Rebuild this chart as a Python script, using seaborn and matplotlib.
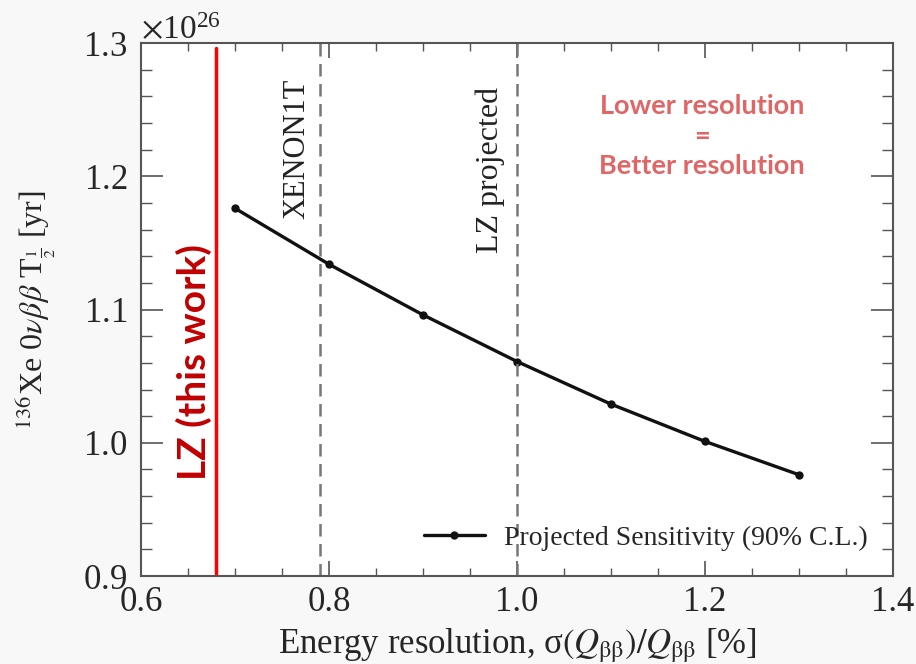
import numpy as np
import pandas as pd
import matplotlib
matplotlib.use("Agg")
import matplotlib.pyplot as plt
import seaborn as sns
from matplotlib.ticker import MultipleLocator, ScalarFormatter

# data (half-life sensitivity, yr)
resolution = [0.7, 0.8, 0.9, 1.0, 1.1, 1.2, 1.3]
halflife = [1.176e26, 1.134e26, 1.096e26, 1.061e26, 1.029e26, 1.001e26, 0.976e26]
xenon1t_res = 0.79
lz_proj_res = 1.0
lz_this_work = 0.68

df = pd.DataFrame({"res": resolution, "t12": halflife})

sns.set_style("ticks")
plt.rcParams["font.family"] = ["Liberation Serif", "DejaVu Serif"]
plt.rcParams["mathtext.fontset"] = "stix"

fig = plt.figure(figsize=(9.16, 6.64), dpi=100, facecolor="#f8f8f8")
ax = fig.add_axes([0.154, 0.1325, 0.821, 0.8025])
ax.set_facecolor("white")

sns.lineplot(data=df, x="res", y="t12", ax=ax, color="#111111", linewidth=2.4,
             marker="o", markersize=6, markeredgewidth=0,
             label="Projected Sensitivity (90% C.L.)")

ax.axvline(xenon1t_res, color="#777777", linestyle=(0, (5, 3)), linewidth=1.8)
ax.axvline(lz_proj_res, color="#777777", linestyle=(0, (5, 3)), linewidth=1.8)
ax.axvline(lz_this_work, ymax=0.99, color="#ff0000", linewidth=2.5)

ax.set_xlim(0.6, 1.4)
ax.set_ylim(0.9e26, 1.3e26)
ax.xaxis.set_major_locator(MultipleLocator(0.2))
ax.xaxis.set_minor_locator(MultipleLocator(0.05))
ax.yaxis.set_major_locator(MultipleLocator(0.1e26))
ax.yaxis.set_minor_locator(MultipleLocator(0.02e26))
ax.xaxis.set_major_formatter(plt.FuncFormatter(lambda v, p: f"{v:.1f}"))
fmt = ScalarFormatter(useMathText=True)
fmt.set_powerlimits((0, 0))
ax.yaxis.set_major_formatter(fmt)
ax.tick_params(which="both", direction="in", top=True, right=True, labelsize=25,
               color="#555555")
ax.tick_params(axis="x", which="major", length=11, width=1.2, pad=7)
ax.tick_params(axis="x", which="minor", length=6, width=1.0)
ax.tick_params(axis="y", which="major", length=16, width=1.2, pad=10)
ax.tick_params(axis="y", which="minor", length=8, width=1.0)
ax.yaxis.get_offset_text().set_fontsize(24)
for s in ax.spines.values():
    s.set_color("#555555")
    s.set_linewidth(1.5)

ax.set_xlabel(r"Energy resolution, σ$(Q_{\mathrm{ββ}})/Q_{\mathrm{ββ}}$ [%]", fontsize=25)
ax.set_ylabel(r"$^{136}$Xe 0$\nu\beta\beta$ T$_{\frac{1}{2}}$ [yr]", fontsize=23)
ax.xaxis.set_label_coords(0.5, -0.095)
ax.yaxis.set_label_coords(-0.11, 0.5)

ax.text(0.766, 1.2205e26, "XENON1T", rotation=90, ha="center", va="center",
        fontsize=22, color="#222222")
ax.text(0.971, 1.2047e26, "LZ projected", rotation=90, ha="center", va="center",
        fontsize=23, color="#222222")
ax.text(0.656, 1.0606e26, "LZ (this work)", rotation=90, ha="center", va="center",
        fontsize=28, color="#c00000", fontweight="bold", family=["Lato", "DejaVu Sans"])
ax.text(1.197, 1.23e26, "Lower resolution\n=\nBetter resolution", ha="center",
        va="center", fontsize=19.5, color="#e06666", fontweight="bold",
        linespacing=1.3, family=["Lato", "DejaVu Sans"])

leg = ax.legend(loc="lower right", frameon=False, fontsize=20, handlelength=2.2,
                handletextpad=0.7, borderaxespad=0.5)

fig.savefig("out.png", dpi=100, facecolor=fig.get_facecolor())
